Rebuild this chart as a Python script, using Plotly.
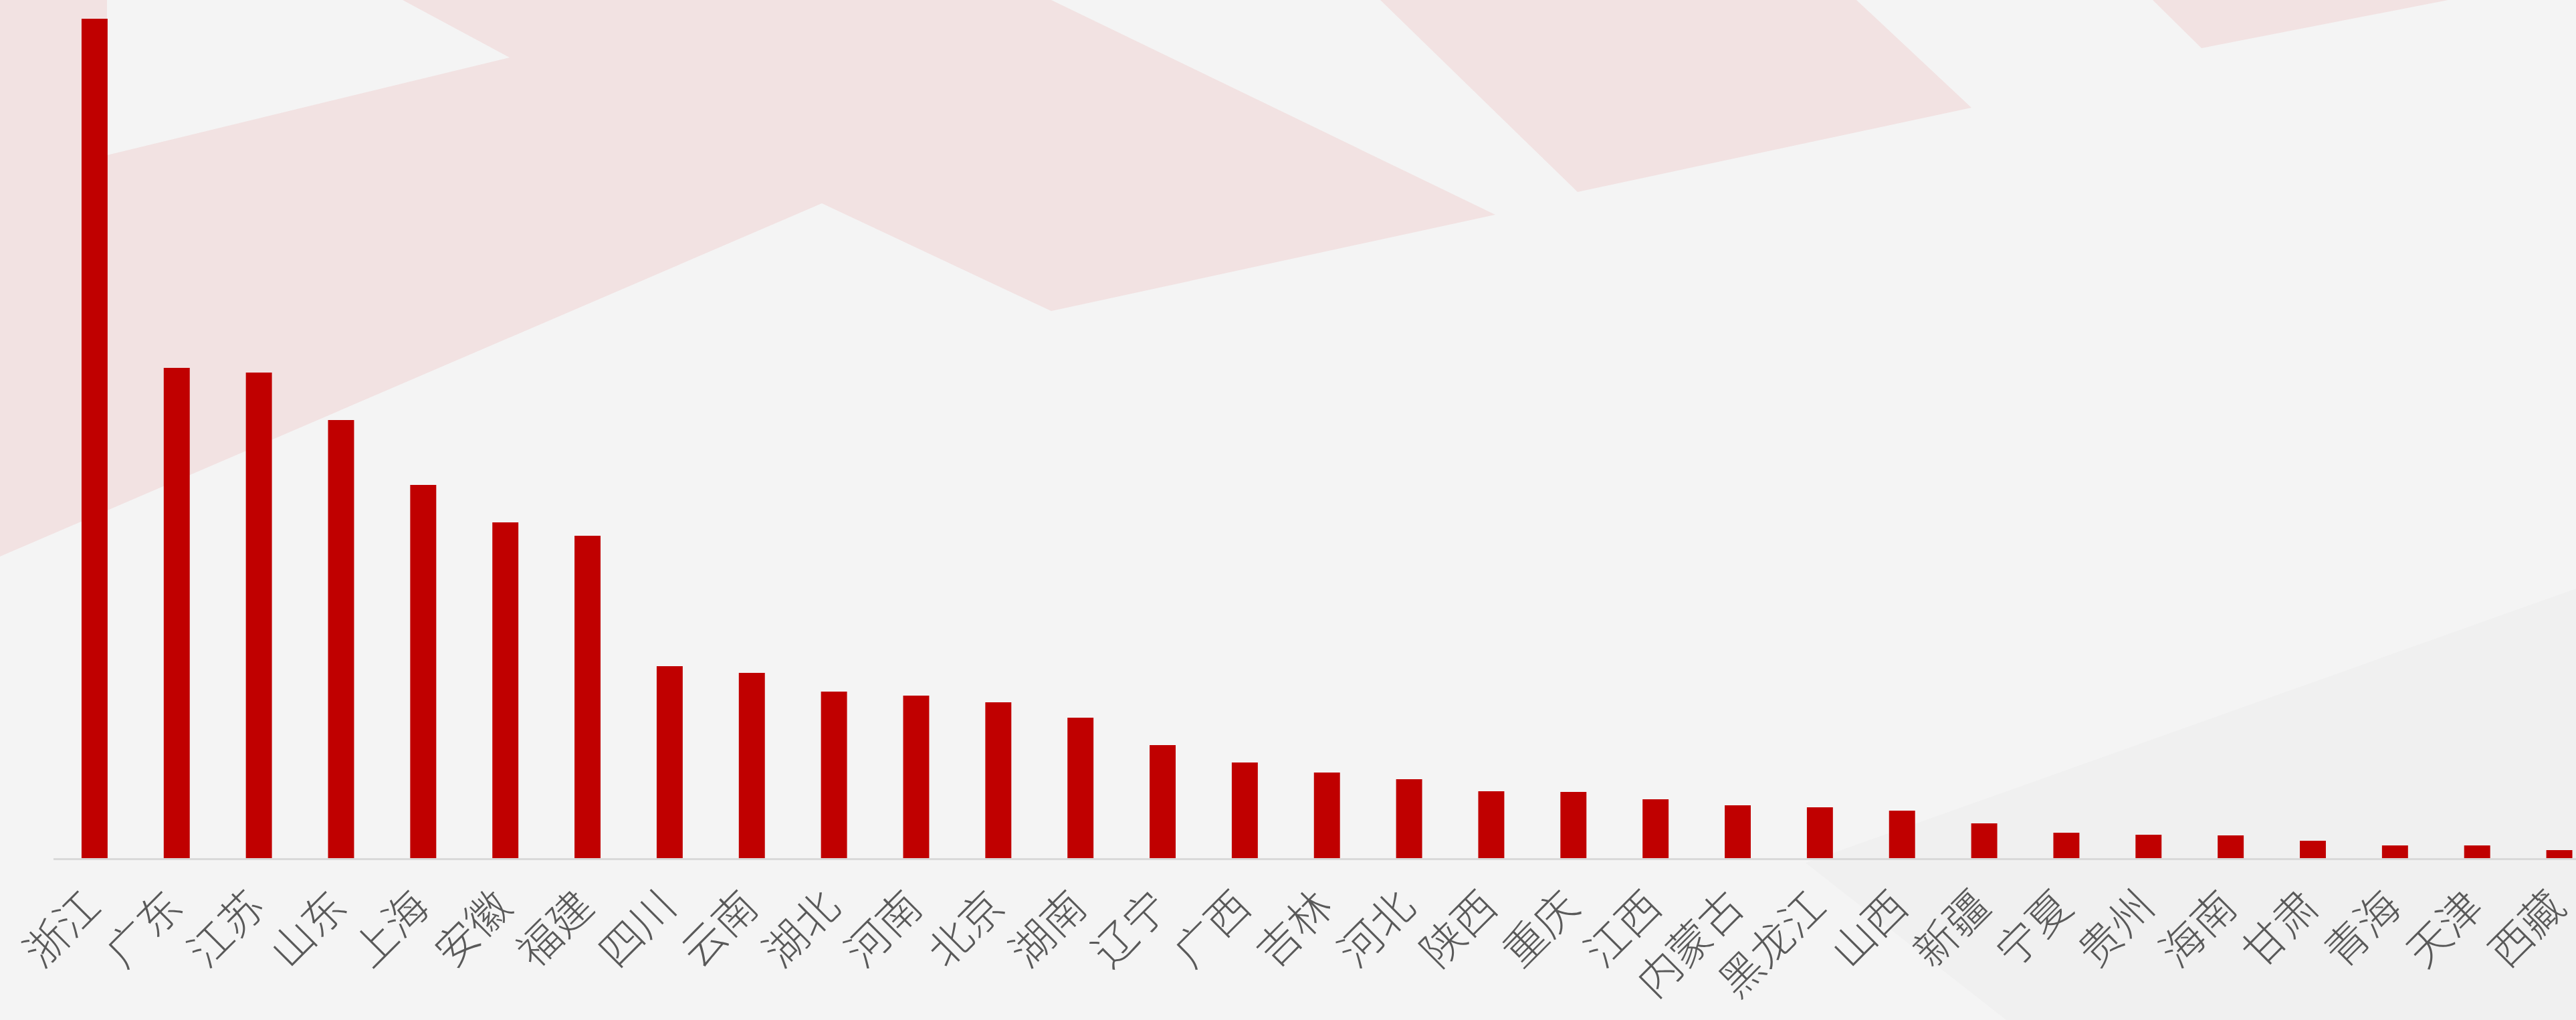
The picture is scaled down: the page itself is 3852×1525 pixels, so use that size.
import plotly.graph_objects as go

# Provinces, in descending order of value
provinces = [
    "浙江", "广东", "江苏", "山东", "上海", "安徽", "福建", "四川", "云南", "湖北",
    "河南", "北京", "湖南", "辽宁", "广西", "吉林", "河北", "陕西", "重庆", "江西",
    "内蒙古", "黑龙江", "山西", "新疆", "宁夏", "贵州", "海南", "甘肃", "青海", "天津",
    "西藏",
]
values = [
    1255, 733, 726, 655, 558, 502, 482, 287, 277, 249,
    243, 233, 210, 169, 143, 128, 118, 100, 99, 88,
    79, 76, 71, 52, 38, 35, 34, 26, 19, 19,
    12,
]

W, H = 3852, 1525
ML, MR, MT, MB = 80, 0, 28, 242
PAPER = "#f4f4f4"
PINK = "#f2e2e2"


def px_path(points):
    """Polygon given in page pixels -> SVG path in paper coordinates."""
    pw = W - ML - MR
    ph = H - MT - MB
    parts = []
    for i, (x, y) in enumerate(points):
        xp = (x - ML) / pw
        yp = (H - MB - y) / ph
        parts.append(("M" if i == 0 else "L") + f"{xp:.5f},{yp:.5f}")
    return " ".join(parts) + " Z"


def bg_shape(points, color):
    return dict(type="path", xref="paper", yref="paper", path=px_path(points),
                fillcolor=color, line=dict(width=0), layer="below")


# Soft decorative blocks printed on the paper background
shapes = [
    bg_shape([(0, 0), (1572, 0), (2236, 321), (1572, 465), (1229, 304), (0, 832)], PINK),
    bg_shape([(160, 0), (602, 0), (762, 86), (160, 232)], PAPER),
    bg_shape([(2064, 0), (2776, 0), (2948, 161), (2359, 287)], PINK),
    bg_shape([(3219, 0), (3661, 0), (3292, 72)], PINK),
    bg_shape([(2700, 1290), (3852, 880), (3852, 1525), (3000, 1525)], "rgba(200,200,200,0.08)"),
]

fig = go.Figure(
    go.Bar(
        x=provinces,
        y=values,
        marker=dict(color="#c00000", line=dict(width=0)),
        hoverinfo="x+y",
    )
)

fig.update_layout(
    width=W,
    height=H,
    margin=dict(l=ML, r=MR, t=MT, b=MB, pad=0, autoexpand=False),
    paper_bgcolor=PAPER,
    plot_bgcolor="rgba(0,0,0,0)",
    bargap=0.683,
    showlegend=False,
    shapes=shapes,
    xaxis=dict(
        type="category",
        range=[-0.5, 30.203],
        automargin=False,
        showline=True,
        linecolor="#d9d9d9",
        linewidth=3,
        showgrid=False,
        zeroline=False,
        ticks="",
        tickangle=-45,
        ticklabelstandoff=6,
        ticklabelshift=-10,
        tickfont=dict(family="Noto Sans CJK SC", size=64, color="#595959", weight=300),
    ),
    yaxis=dict(
        range=[0, 1255],
        visible=False,
        automargin=False,
        showgrid=False,
        zeroline=False,
    ),
)

fig.write_html("out.html")
